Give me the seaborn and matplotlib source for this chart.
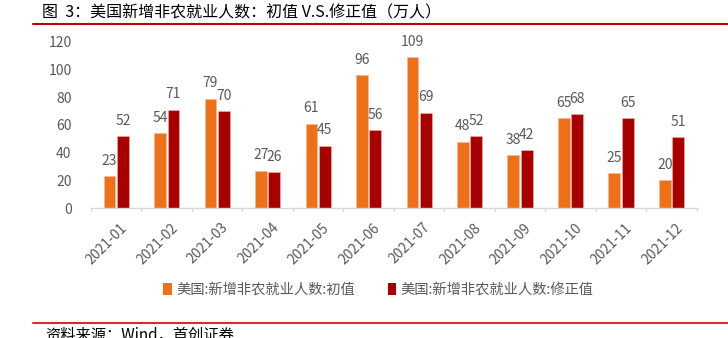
import matplotlib
matplotlib.use("Agg")
import matplotlib.pyplot as plt
import matplotlib.transforms as mtransforms
import seaborn as sns
import pandas as pd
from matplotlib.patches import Patch

months = ["2021-01", "2021-02", "2021-03", "2021-04", "2021-05", "2021-06",
          "2021-07", "2021-08", "2021-09", "2021-10", "2021-11", "2021-12"]
initial = [23, 54, 79, 27, 61, 96, 109, 48, 38, 65, 25, 20]
revised = [52, 71, 70, 26, 45, 56, 69, 52, 42, 68, 65, 51]
series_names = ["美国:新增非农就业人数:初值", "美国:新增非农就业人数:修正值"]
yticks = [0, 20, 40, 60, 80, 100, 120]
title = "图  3：美国新增非农就业人数：初值 V.S.修正值（万人）"
source = "资料来源：Wind，首创证券"

df = pd.DataFrame({
    "month": months * 2,
    "value": initial + revised,
    "series": [series_names[0]] * len(months) + [series_names[1]] * len(months),
})

sns.set_theme(style="white")
plt.rcParams['font.family'] = ['Noto Sans CJK SC', 'DejaVu Sans']

gray = "#595959"
colors = ["#EE7118", "#A80000"]

fig = plt.figure(figsize=(7.28, 3.38), dpi=100)
ax = fig.add_axes([0.125, 0.3846, 0.832, 0.4914])

sns.barplot(data=df, x="month", y="value", hue="series", palette=colors,
            width=0.53, gap=0.12, ax=ax, legend=False, saturation=1,
            edgecolor="#F4B8A0", linewidth=0.4)

for cont in ax.containers:
    ax.bar_label(cont, fmt="%d", padding=6, fontsize=10, color=gray)

ax.set_ylim(0, 120)
ax.set_yticks(yticks)
ax.set_xlim(-0.5, len(months) - 0.5)
ax.set_xlabel("")
ax.set_ylabel("")
ax.tick_params(axis="y", labelsize=10, colors=gray, length=0, pad=14)
ax.tick_params(axis="x", labelsize=10, colors=gray, length=0, pad=9)
offset = mtransforms.ScaledTranslation(4 / 100, 0, fig.dpi_scale_trans)
for lbl in ax.get_xticklabels():
    lbl.set_rotation(45)
    lbl.set_ha("right")
    lbl.set_rotation_mode("anchor")
    lbl.set_transform(lbl.get_transform() + offset)
for s in ["top", "right", "left"]:
    ax.spines[s].set_visible(False)
ax.spines["bottom"].set_color("#D9D9D9")
ax.spines["bottom"].set_linewidth(1)
for i in range(len(months) + 1):
    ax.plot([i - 0.5, i - 0.5], [0, -2.5], color="#D9D9D9", lw=1, clip_on=False)

handles = [Patch(facecolor=c, edgecolor="none") for c in colors]
fig.legend(handles, series_names, loc="center", bbox_to_anchor=(0.52, 0.142),
           ncol=2, frameon=False, fontsize=10.3, handlelength=0.6, handleheight=0.9,
           handletextpad=0.3, columnspacing=2.3, labelcolor=gray)

fig.text(0.058, 0.962, title, fontsize=11.5, color="black", va="center", ha="left")
fig.add_artist(plt.Line2D([0.046, 1.0], [0.93, 0.93], color="#C00000", lw=1.5))
fig.add_artist(plt.Line2D([0.046, 1.0], [0.044, 0.044], color="#D0312D", lw=1.5))
fig.text(0.062, 0.034, source, fontsize=11, color="black", style="italic",
         va="top", ha="left")

fig.savefig("out.png", dpi=100)
